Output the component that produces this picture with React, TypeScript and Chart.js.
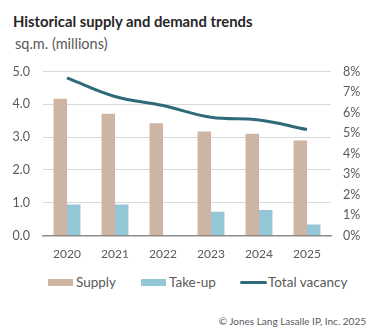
import React, { useEffect, useRef } from "react";
import { Chart, registerables } from "chart.js";

Chart.register(...registerables);

const categories = ["2020", "2021", "2022", "2023", "2024", "2025"];
const supply = [4.17, 3.71, 3.42, 3.17, 3.1, 2.9];
const takeUp = [0.95, 0.95, 0, 0.73, 0.78, 0.34];
const vacancy = [7.69, 6.78, 6.34, 5.77, 5.64, 5.17];
const leftTicks = [0, 1, 2, 3, 4, 5];
const rightTicks = [0, 1, 2, 3, 4, 5, 6, 7, 8];

const FONT = "Lato, 'Noto Sans', sans-serif";
const TEXT = "#595959";
const C_SUPPLY = "#CDB4A3";
const C_TAKEUP = "#93C6D6";
const C_VAC = "#2F6A7A";

export default function App() {
  const ref = useRef<HTMLCanvasElement | null>(null);
  useEffect(() => {
    if (!ref.current) return;
    const chart = new Chart(ref.current, {
      type: "bar",
      data: {
        labels: categories,
        datasets: [
          {
            type: "line",
            label: "Total vacancy",
            data: vacancy,
            yAxisID: "y2",
            borderColor: C_VAC,
            backgroundColor: C_VAC,
            borderWidth: 3,
            tension: 0.4,
            pointRadius: 0,
            order: 0,
          } as any,
          {
            label: "Supply",
            data: supply,
            yAxisID: "y",
            backgroundColor: C_SUPPLY,
            categoryPercentage: 0.56,
            barPercentage: 1,
            order: 1,
          },
          {
            label: "Take-up",
            data: takeUp,
            yAxisID: "y",
            backgroundColor: C_TAKEUP,
            categoryPercentage: 0.56,
            barPercentage: 1,
            order: 1,
          },
        ],
      },
      options: {
        responsive: false,
        animation: false,
        layout: { padding: { top: 8, left: 0, right: 0, bottom: 0 } },
        plugins: {
          tooltip: { enabled: false },
          legend: { display: false },
        },
        scales: {
          x: {
            grid: { display: false, drawTicks: false },
            border: { display: true, color: "#8C8C8C", width: 1.5 },
            ticks: { color: TEXT, font: { family: FONT, size: 12 }, padding: 11 },
          },
          y: {
            position: "left",
            min: 0,
            max: 5,
            afterBuildTicks: (s: any) => {
              s.ticks = leftTicks.map((v) => ({ value: v }));
            },
            afterFit: (s: any) => {
              s.width = 43;
            },
            grid: { color: "#D9D9D9", drawTicks: false },
            border: { display: false },
            ticks: {
              color: TEXT,
              font: { family: FONT, size: 12.5 },
              padding: 13,
              callback: (v: any) => Number(v).toFixed(1),
            },
          },
          y2: {
            position: "right",
            min: 0,
            max: 8,
            afterBuildTicks: (s: any) => {
              s.ticks = rightTicks.map((v) => ({ value: v }));
            },
            afterFit: (s: any) => {
              s.width = 61;
            },
            grid: { display: false, drawTicks: false },
            border: { display: false },
            ticks: {
              color: TEXT,
              font: { family: FONT, size: 12.5 },
              padding: 12,
              callback: (v: any) => v + "%",
            },
          },
        },
      },
    });
    return () => chart.destroy();
  }, []);

  const legendText: React.CSSProperties = {
    position: "absolute",
    top: 273,
    fontSize: 13.5,
    color: TEXT,
    whiteSpace: "nowrap",
    lineHeight: "18px",
  };

  return (
    <div
      style={{
        position: "absolute",
        left: 0,
        top: 0,
        width: 392,
        height: 331,
        background: "#fff",
        fontFamily: FONT,
      }}
    >
      <div
        style={{
          position: "absolute",
          left: 13,
          top: 12,
          fontSize: 14.8,
          fontWeight: 700,
          color: "#262626",
          whiteSpace: "nowrap",
        }}
      >
        Historical supply and demand trends
      </div>
      <div
        style={{
          position: "absolute",
          left: 15,
          top: 35,
          fontSize: 14.5,
          color: TEXT,
          whiteSpace: "nowrap",
        }}
      >
        sq.m. (millions)
      </div>
      <canvas
        ref={ref}
        width={392}
        height={221}
        style={{ position: "absolute", left: 0, top: 51, width: 392, height: 221 }}
      />
      <div style={{ position: "absolute", left: 48, top: 279, width: 25, height: 7, background: C_SUPPLY }} />
      <div style={{ ...legendText, left: 76 }}>Supply</div>
      <div style={{ position: "absolute", left: 141, top: 279, width: 25, height: 7, background: C_TAKEUP }} />
      <div style={{ ...legendText, left: 169 }}>Take-up</div>
      <div
        style={{
          position: "absolute",
          left: 240,
          top: 281,
          width: 27,
          height: 3,
          borderRadius: 2,
          background: C_VAC,
        }}
      />
      <div style={{ ...legendText, left: 268 }}>Total vacancy</div>
      <div
        style={{
          position: "absolute",
          right: 26,
          top: 315,
          fontSize: 10,
          color: TEXT,
          whiteSpace: "nowrap",
        }}
      >
        © Jones Lang Lasalle IP, Inc. 2025
      </div>
    </div>
  );
}
